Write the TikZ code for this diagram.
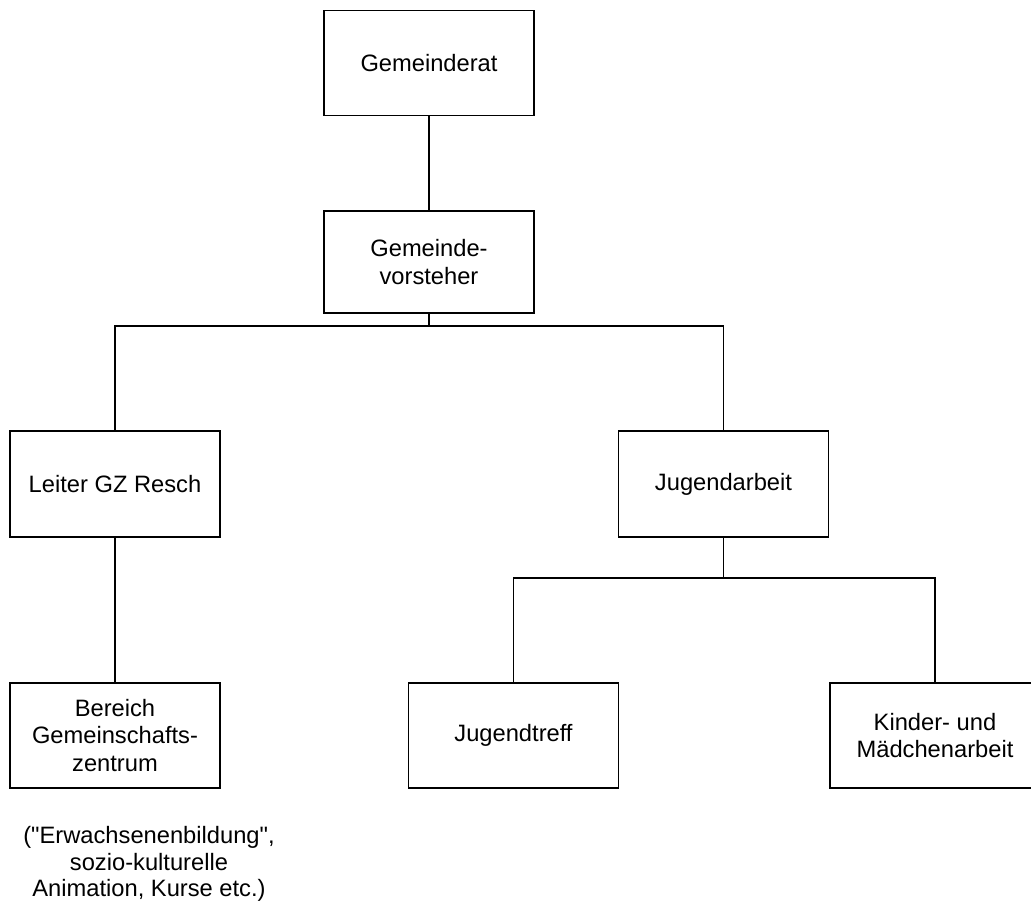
\documentclass[tikz,border=0pt]{standalone}
\usepackage{fontspec}
\setmainfont{Liberation Sans}[Ligatures=TeXOff]
\begin{document}
\begin{tikzpicture}[x=1pt,y=-1pt,
  orgbox/.style={draw=black, line width=1.6pt, minimum width=210pt, minimum height=105pt,
    inner sep=0pt, align=center, font=\fontsize{23.7}{27.5}\selectfont},
  note/.style={inner sep=0pt, align=center, font=\fontsize{23.7}{26.8}\selectfont},
  conn/.style={line width=1.6pt}]
\useasboundingbox (0,0) rectangle (1031,900);
\clip (0,0) rectangle (1031,900);
\node[orgbox] (gr) at (429,63) {Gemeinderat};
\node[orgbox, minimum height=102pt] (gv) at (429,262) {Gemeinde-\\vorsteher};
\node[orgbox, minimum height=106pt] (lt) at (115,484) {Leiter GZ Resch};
\node[orgbox, minimum height=106pt] (ja) at (723.5,484) {Jugendarbeit};
\node[orgbox] (bg) at (115,735.5) {Bereich\\Gemeinschafts-\\zentrum};
\node[orgbox] (jt) at (513.5,735.5) {Jugendtreff};
\node[orgbox] (km) at (935,735.5) {Kinder- und\\Mädchenarbeit};
\node[note] (an) at (149,864) {("Erwachsenenbildung",\\sozio-kulturelle\\Animation, Kurse etc.)};
\coordinate (b1) at (429,326);
\coordinate (b2) at (723.5,578);
\draw[conn] (gr) -- (gv);
\draw[conn] (gv) -- (b1);
\draw[conn] (lt) |- (b1);
\draw[conn] (b1) -| (ja);
\draw[conn] (lt) -- (bg);
\draw[conn] (ja) -- (b2);
\draw[conn] (jt) |- (b2);
\draw[conn] (b2) -| (km);
\end{tikzpicture}
\end{document}
